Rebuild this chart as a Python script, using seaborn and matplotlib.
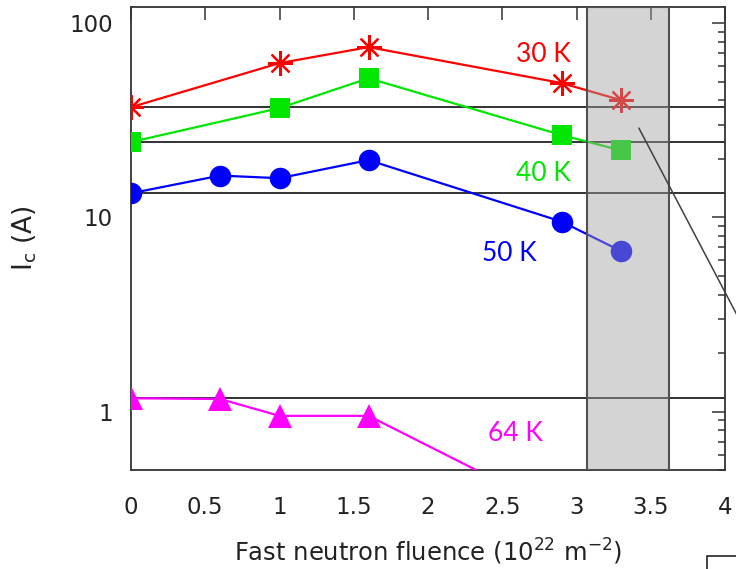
import matplotlib
matplotlib.use("Agg")
import matplotlib.pyplot as plt
import seaborn as sns
from matplotlib.ticker import FuncFormatter, LogLocator, NullFormatter, NullLocator, FixedLocator
from matplotlib.patches import Rectangle

# Critical current vs. fast neutron fluence at four temperatures
fluence_30K = [0.0, 1.0, 1.6, 2.9, 3.3]
ic_30K = [36.9, 62.2, 75.2, 49.1, 40.1]

fluence_40K = [0.0, 1.0, 1.6, 2.9, 3.3]
ic_40K = [24.4, 36.5, 52.0, 26.5, 22.1]

fluence_50K = [0.0, 0.6, 1.0, 1.6, 2.9, 3.3]
ic_50K = [13.3, 16.4, 15.9, 19.7, 9.5, 6.7]

fluence_64K = [0.0, 0.6, 1.0, 1.6, 2.9]
ic_64K = [1.17, 1.16, 0.95, 0.95, 0.30]

temperature_labels = ["30 K", "40 K", "50 K", "64 K"]
x_ticks = [0, 0.5, 1, 1.5, 2, 2.5, 3, 3.5, 4]
y_ticks = [1, 10, 100]

sns.set_theme(style="white")
plt.rcParams["font.family"] = ["DejaVu Sans"]

fig = plt.figure(figsize=(7.36, 5.69), dpi=100)
ax = fig.add_axes([131 / 736, 1 - 470 / 569, 594 / 736, 463 / 569])

series = [
    (fluence_30K, ic_30K, "#ff0000", (8, 2, 0), 18),
    (fluence_40K, ic_40K, "#00e600", "s", 15),
    (fluence_50K, ic_50K, "#0000ff", "o", 15.5),
    (fluence_64K, ic_64K, "#ff00ff", "^", 17),
]

# reference level of each unirradiated sample
for xs, ys, color, marker, ms in series:
    ax.hlines(ys[0], 0, 4, colors="#222222", lw=1.3, zorder=1)

for xs, ys, color, marker, ms in series:
    sns.lineplot(x=xs, y=ys, ax=ax, color=color, marker=marker, markersize=ms,
                 markeredgecolor=color, markerfacecolor=color,
                 markeredgewidth=1.6 if marker == (8, 2, 0) else 0,
                 lw=1.6, sort=False, estimator=None, zorder=3)

ax.set_yscale("log")
ax.set_xlim(0, 4)
ax.set_ylim(0.5, 121)

# highlighted fluence band
ax.axvspan(3.07, 3.62, facecolor="#a0a0a0", alpha=0.45, lw=0, zorder=5)
ax.axvspan(3.07, 3.62, fill=False, edgecolor="#505050", lw=1.5, zorder=6)
ax.plot([3.42, 4.25], [28.8, 1.78], color="#404040", lw=1.1, clip_on=False, zorder=7)

label_pos = [(2.78, 69.0), (2.78, 16.9), (2.55, 6.5), (2.59, 0.77)]
for (tx, ty), text, (_, _, color, _, _) in zip(label_pos, temperature_labels, series):
    ax.text(tx, ty, text, color=color, fontsize=19, family=["Lato", "DejaVu Sans"],
            ha="center", va="center", zorder=8)

ax.xaxis.set_major_locator(FixedLocator(x_ticks))
ax.xaxis.set_major_formatter(FuncFormatter(lambda v, p: f"{v:g}"))
ax.xaxis.set_minor_locator(NullLocator())
ax.yaxis.set_major_locator(FixedLocator(y_ticks))
ax.yaxis.set_major_formatter(FuncFormatter(lambda v, p: f"{v:g}"))
ax.yaxis.set_minor_locator(LogLocator(base=10, subs=range(2, 10)))
ax.yaxis.set_minor_formatter(NullFormatter())

ax.tick_params(which="both", direction="in", top=True, right=True,
               color="#333333", width=1.1, labelcolor="#222222", labelsize=16.5)
ax.tick_params(which="major", length=9.5)
ax.tick_params(which="minor", length=5)
ax.tick_params(axis="x", pad=19)
ax.tick_params(axis="y", pad=13)

for sp in ax.spines.values():
    sp.set_color("#333333")
    sp.set_linewidth(1.3)

ax.set_xlabel("Fast neutron fluence (10$^{22}$ m$^{-2}$)", fontsize=17.5, color="#222222")
ax.set_ylabel("I$_\\mathregular{c}$ (A)", fontsize=19, color="#222222")
ax.xaxis.set_label_coords(0.5, -0.145)
ax.yaxis.set_label_coords(-0.155, 0.5)

fig.add_artist(Rectangle((707 / 736, -0.1), 0.2, 0.1 + 13 / 569, transform=fig.transFigure,
                         facecolor="white", edgecolor="#222222", lw=1.2, clip_on=False))

fig.savefig("out.png", dpi=100)
